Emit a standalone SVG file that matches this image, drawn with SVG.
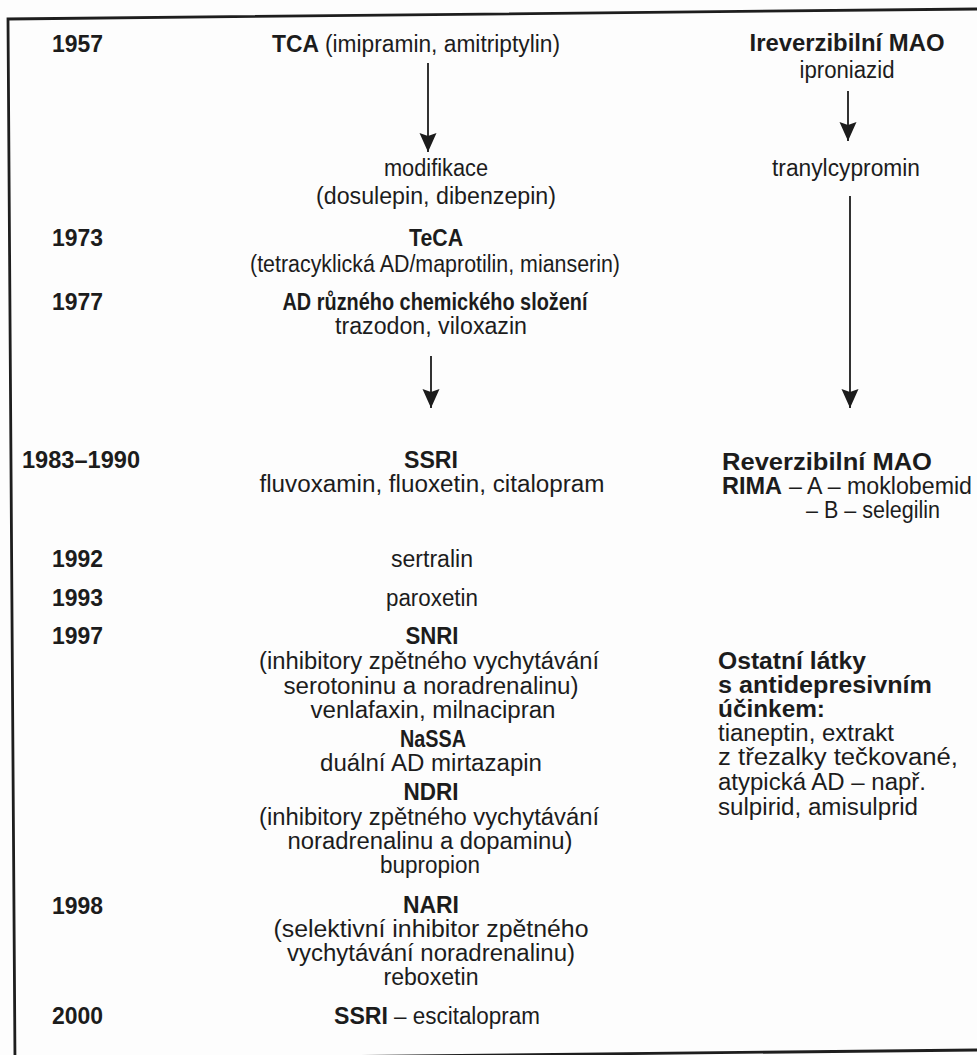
<svg xmlns="http://www.w3.org/2000/svg" width="977" height="1055" viewBox="0 0 977 1055">
<style>
.t{font-family:"Liberation Sans",Arial,Helvetica,sans-serif;font-size:23px;fill:#1c1c1c}
.c{text-anchor:middle}
.b{font-weight:bold}
.frame{fill:none;stroke:#1e1e1e;stroke-width:2.8;stroke-linecap:square}
.arr{stroke:#1c1c1c;stroke-width:1.8;fill:none;marker-end:url(#ah)}
</style>
<defs>
<marker id="ah" markerUnits="userSpaceOnUse" markerWidth="20" markerHeight="18" refX="19" refY="8.5" orient="auto">
<path d="M0,0 L19,8.5 L0,17 L3,8.5 Z" fill="#1c1c1c"/>
</marker>
</defs>
<rect x="0" y="0" width="977" height="1055" fill="#fdfdfd"/>
<g id="frame">
<path class="frame" d="M977,9 L8,19 L15,1062 M15,1060 L977,1050"/>
</g>
<g id="connectors">
<line class="arr" x1="428" y1="63" x2="428" y2="152"/>
<line class="arr" x1="848" y1="91" x2="848" y2="141"/>
<line class="arr" x1="850" y1="196" x2="850" y2="408"/>
<line class="arr" x1="431" y1="356" x2="431" y2="408"/>
</g>
<g id="years">
<text class="t b" x="52" y="52" textLength="51" lengthAdjust="spacingAndGlyphs">1957</text>
<text class="t b" x="52" y="246" textLength="51" lengthAdjust="spacingAndGlyphs">1973</text>
<text class="t b" x="52" y="310" textLength="51" lengthAdjust="spacingAndGlyphs">1977</text>
<text class="t b" x="22" y="468" textLength="118" lengthAdjust="spacingAndGlyphs">1983–1990</text>
<text class="t b" x="52" y="567" textLength="51" lengthAdjust="spacingAndGlyphs">1992</text>
<text class="t b" x="52" y="606" textLength="51" lengthAdjust="spacingAndGlyphs">1993</text>
<text class="t b" x="52" y="644" textLength="51" lengthAdjust="spacingAndGlyphs">1997</text>
<text class="t b" x="52" y="914" textLength="51" lengthAdjust="spacingAndGlyphs">1998</text>
<text class="t b" x="52" y="1024" textLength="51" lengthAdjust="spacingAndGlyphs">2000</text>
</g>
<g id="node-tca">
<text class="t b" x="272" y="52" textLength="47" lengthAdjust="spacingAndGlyphs">TCA</text>
<text class="t" x="325" y="52" textLength="235" lengthAdjust="spacingAndGlyphs">(imipramin, amitriptylin)</text>
</g>
<g id="node-modifikace">
<text class="t c" x="436" y="176" textLength="104" lengthAdjust="spacingAndGlyphs">modifikace</text>
<text class="t c" x="436" y="204" textLength="240" lengthAdjust="spacingAndGlyphs">(dosulepin, dibenzepin)</text>
</g>
<g id="node-teca">
<text class="t c b" x="436" y="246" textLength="54" lengthAdjust="spacingAndGlyphs">TeCA</text>
<text class="t c" x="435" y="272" textLength="370" lengthAdjust="spacingAndGlyphs">(tetracyklická AD/maprotilin, mianserin)</text>
</g>
<g id="node-ad">
<text class="t c b" x="435" y="310" textLength="305" lengthAdjust="spacingAndGlyphs">AD různého chemického složení</text>
<text class="t c" x="431" y="334" textLength="192" lengthAdjust="spacingAndGlyphs">trazodon, viloxazin</text>
</g>
<g id="node-ssri">
<text class="t c b" x="431" y="468" textLength="54" lengthAdjust="spacingAndGlyphs">SSRI</text>
<text class="t c" x="432" y="492" textLength="345" lengthAdjust="spacingAndGlyphs">fluvoxamin, fluoxetin, citalopram</text>
</g>
<g id="node-sertralin">
<text class="t c" x="432" y="567" textLength="82" lengthAdjust="spacingAndGlyphs">sertralin</text>
</g>
<g id="node-paroxetin">
<text class="t c" x="432" y="606" textLength="92" lengthAdjust="spacingAndGlyphs">paroxetin</text>
</g>
<g id="node-snri">
<text class="t c b" x="432" y="644" textLength="53" lengthAdjust="spacingAndGlyphs">SNRI</text>
<text class="t c" x="429" y="669" textLength="340" lengthAdjust="spacingAndGlyphs">(inhibitory zpětného vychytávání</text>
<text class="t c" x="431" y="694" textLength="295" lengthAdjust="spacingAndGlyphs">serotoninu a noradrenalinu)</text>
<text class="t c" x="433" y="718" textLength="245" lengthAdjust="spacingAndGlyphs">venlafaxin, milnacipran</text>
</g>
<g id="node-nassa">
<text class="t c b" x="433" y="747" textLength="66" lengthAdjust="spacingAndGlyphs">NaSSA</text>
<text class="t c" x="431" y="771" textLength="222" lengthAdjust="spacingAndGlyphs">duální AD mirtazapin</text>
</g>
<g id="node-ndri">
<text class="t c b" x="431" y="800" textLength="55" lengthAdjust="spacingAndGlyphs">NDRI</text>
<text class="t c" x="429" y="825" textLength="340" lengthAdjust="spacingAndGlyphs">(inhibitory zpětného vychytávání</text>
<text class="t c" x="430" y="849" textLength="285" lengthAdjust="spacingAndGlyphs">noradrenalinu a dopaminu)</text>
<text class="t c" x="430" y="873" textLength="100" lengthAdjust="spacingAndGlyphs">bupropion</text>
</g>
<g id="node-nari">
<text class="t c b" x="431" y="913" textLength="56" lengthAdjust="spacingAndGlyphs">NARI</text>
<text class="t c" x="431" y="937" textLength="315" lengthAdjust="spacingAndGlyphs">(selektivní inhibitor zpětného</text>
<text class="t c" x="431" y="961" textLength="288" lengthAdjust="spacingAndGlyphs">vychytávání noradrenalinu)</text>
<text class="t c" x="431" y="985" textLength="95" lengthAdjust="spacingAndGlyphs">reboxetin</text>
</g>
<g id="node-escitalopram">
<text class="t b" x="334" y="1024" textLength="54" lengthAdjust="spacingAndGlyphs">SSRI</text>
<text class="t" x="394" y="1024" textLength="146" lengthAdjust="spacingAndGlyphs">– escitalopram</text>
</g>
<g id="node-ireverzibilni">
<text class="t c b" x="847" y="51" textLength="195" lengthAdjust="spacingAndGlyphs">Ireverzibilní MAO</text>
<text class="t c" x="847" y="78" textLength="95" lengthAdjust="spacingAndGlyphs">iproniazid</text>
</g>
<g id="node-tranylcypromin">
<text class="t c" x="846" y="176" textLength="148" lengthAdjust="spacingAndGlyphs">tranylcypromin</text>
</g>
<g id="node-reverzibilni">
<text class="t b" x="722" y="470" textLength="210" lengthAdjust="spacingAndGlyphs">Reverzibilní MAO</text>
<text class="t b" x="722" y="494" textLength="60" lengthAdjust="spacingAndGlyphs">RIMA</text>
<text class="t" x="789" y="494" textLength="183" lengthAdjust="spacingAndGlyphs">– A – moklobemid</text>
<text class="t" x="806" y="518" textLength="134" lengthAdjust="spacingAndGlyphs">– B – selegilin</text>
</g>
<g id="node-ostatni">
<text class="t b" x="718" y="669" textLength="148" lengthAdjust="spacingAndGlyphs">Ostatní látky</text>
<text class="t b" x="718" y="693" textLength="214" lengthAdjust="spacingAndGlyphs">s antidepresivním</text>
<text class="t b" x="718" y="717" textLength="107" lengthAdjust="spacingAndGlyphs">účinkem:</text>
<text class="t" x="718" y="741" textLength="176" lengthAdjust="spacingAndGlyphs">tianeptin, extrakt</text>
<text class="t" x="718" y="765" textLength="240" lengthAdjust="spacingAndGlyphs">z třezalky tečkované,</text>
<text class="t" x="718" y="790" textLength="208" lengthAdjust="spacingAndGlyphs">atypická AD – např.</text>
<text class="t" x="718" y="815" textLength="200" lengthAdjust="spacingAndGlyphs">sulpirid, amisulprid</text>
</g>
</svg>
